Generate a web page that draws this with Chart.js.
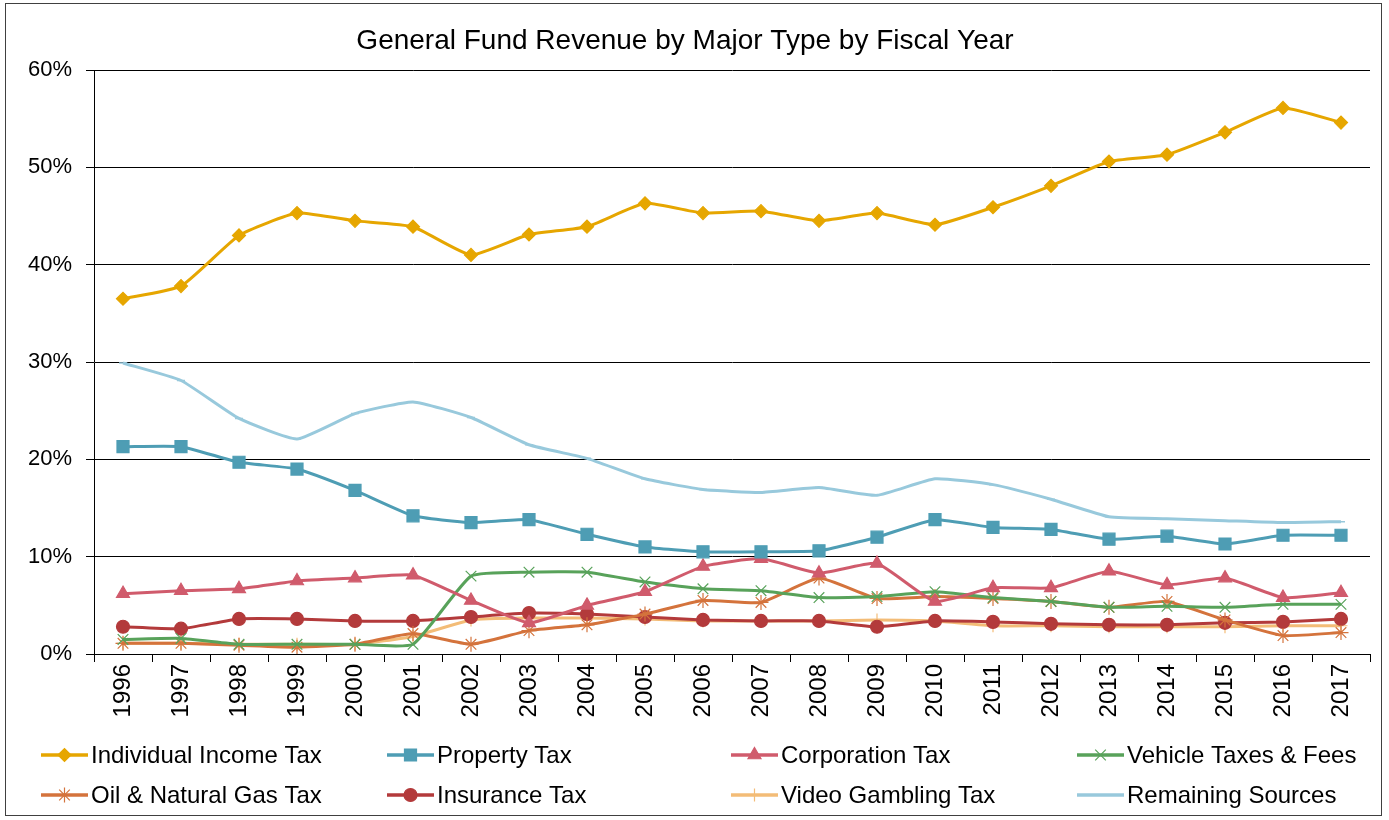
<!DOCTYPE html>
<html>
<head>
<meta charset="utf-8">
<script src="https://cdn.jsdelivr.net/npm/chart.js@4.4.1/dist/chart.umd.min.js"></script>
<style>
html,body{margin:0;padding:0;background:#fff;}
#wrap{position:relative;width:1389px;height:820px;}
canvas{display:block;}
</style>
</head>
<body>
<div id="wrap"><canvas id="c" width="1389" height="820"></canvas></div>
<script>
const years = ['1996','1997','1998','1999','2000','2001','2002','2003','2004','2005','2006','2007','2008','2009','2010','2011','2012','2013','2014','2015','2016','2017'];
const yTicks = [0,10,20,30,40,50,60];
const seriesNames = ['Individual Income Tax','Property Tax','Corporation Tax','Vehicle Taxes & Fees','Oil & Natural Gas Tax','Insurance Tax','Video Gambling Tax','Remaining Sources'];
const individualIncome = [36.5,37.8,43.0,45.3,44.5,43.9,41.0,43.1,43.9,46.3,45.3,45.5,44.5,45.3,44.1,45.9,48.1,50.6,51.3,53.6,56.1,54.6];
const propertyTax = [21.3,21.3,19.7,19.0,16.8,14.2,13.5,13.8,12.3,11.0,10.5,10.5,10.6,12.0,13.8,13.0,12.8,11.8,12.1,11.3,12.2,12.2];
const corporationTax = [6.2,6.5,6.7,7.5,7.8,8.1,5.5,3.2,5.0,6.4,9.0,9.8,8.3,9.3,5.4,6.8,6.8,8.5,7.1,7.8,5.8,6.3];
const vehicleTaxes = [1.5,1.6,1.0,1.0,1.0,1.0,8.0,8.4,8.4,7.4,6.7,6.5,5.8,5.9,6.4,5.8,5.4,4.8,4.9,4.8,5.1,5.1];
const oilGasTax = [1.1,1.1,0.9,0.7,1.0,2.1,1.0,2.4,3.0,4.1,5.5,5.3,7.8,5.7,5.9,5.7,5.4,4.8,5.4,3.5,1.9,2.2];
const insuranceTax = [2.8,2.6,3.6,3.6,3.4,3.4,3.8,4.2,4.1,3.8,3.5,3.4,3.4,2.8,3.4,3.3,3.1,3.0,3.0,3.2,3.3,3.6];
const videoGambling = [1.1,1.1,1.0,1.0,1.0,1.8,3.5,3.7,3.7,3.6,3.4,3.4,3.4,3.5,3.4,2.9,2.9,2.8,2.8,2.8,2.9,2.9];
const remainingSources = [29.9,28.1,24.2,22.1,24.7,25.9,24.3,21.5,20.1,18.0,16.9,16.6,17.1,16.3,18.0,17.4,15.9,14.1,13.9,13.7,13.5,13.6];

const FONT = '"Liberation Sans", Arial, sans-serif';

function ds(label, data, color, style, radius, opts) {
  return Object.assign({
    label, data,
    borderColor: color, backgroundColor: color,
    pointBackgroundColor: color, pointBorderColor: color,
    pointStyle: style, pointRadius: radius, pointHoverRadius: radius,
    pointBorderWidth: 1.2,
    borderWidth: 3, tension: 0.15, fill: false
  }, opts || {});
}

const datasets = [
  ds(seriesNames[0], individualIncome, '#E6A600', 'rectRot', 6.5),
  ds(seriesNames[1], propertyTax, '#4E9DB4', 'rect', 8.5),
  ds(seriesNames[2], corporationTax, '#D05B6C', 'triangle', 7.5),
  ds(seriesNames[3], vehicleTaxes, '#58A25A', 'crossRot', 7.5),
  ds(seriesNames[4], oilGasTax, '#D4733C', 'star', 7.5),
  ds(seriesNames[5], insuranceTax, '#B33A3B', 'circle', 6.5),
  ds(seriesNames[6], videoGambling, '#F3BC77', 'cross', 6.5),
  ds(seriesNames[7], remainingSources, '#98C9DC', 'line', 4, {pointBorderWidth: 1.5})
];

const legendPlugin = {
  id: 'customLegend',
  afterDraw(chart) {
    const ctx = chart.ctx;
    const colX = [41, 387, 731, 1077];
    const rowY = [755, 795];
    ctx.save();
    chart.data.datasets.forEach((d, i) => {
      const x = colX[i % 4], y = rowY[Math.floor(i / 4)];
      ctx.strokeStyle = d.borderColor;
      ctx.lineWidth = 3.5;
      ctx.beginPath(); ctx.moveTo(x, y); ctx.lineTo(x + 47, y); ctx.stroke();
      if (d.pointStyle !== 'line') {
        ctx.fillStyle = d.borderColor;
        ctx.lineWidth = 1.2;
        Chart.helpers.drawPoint(ctx, {pointStyle: d.pointStyle, radius: d.pointRadius, borderWidth: 1.2, rotation: 0}, x + 23.5, y);
      }
      ctx.fillStyle = '#000';
      ctx.font = '24px ' + FONT;
      ctx.textBaseline = 'middle';
      ctx.textAlign = 'left';
      ctx.fillText(d.label, x + 50, y + 1);
    });
    ctx.restore();
  },
  beforeDraw(chart) {
    const ctx = chart.ctx;
    ctx.save();
    ctx.fillStyle = '#fff';
    ctx.fillRect(0, 0, chart.width, chart.height);
    ctx.strokeStyle = '#404040';
    ctx.lineWidth = 1;
    ctx.strokeRect(5.5, 3.5, 1376, 812);
    ctx.restore();
  }
};

new Chart(document.getElementById('c'), {
  type: 'line',
  data: { labels: years, datasets },
  plugins: [legendPlugin],
  options: {
    responsive: false,
    animation: false,
    layout: { padding: { left: 0, right: 19, top: 0, bottom: 94 } },
    plugins: {
      legend: { display: false },
      tooltip: { enabled: false },
      title: {
        display: true,
        text: 'General Fund Revenue by Major Type by Fiscal Year',
        color: '#000',
        font: { family: FONT, size: 28, weight: 'normal', lineHeight: 1.2 },
        padding: { top: 24, bottom: 12.4 }
      }
    },
    scales: {
      x: {
        type: 'category',
        offset: true,
        grid: { display: true, drawOnChartArea: false, drawTicks: true, tickLength: 8, color: '#000', offset: true },
        border: { display: true, color: '#000', width: 1 },
        ticks: { color: '#000', font: { family: FONT, size: 24 }, maxRotation: 90, minRotation: 90, padding: 2, autoSkip: false },
        afterFit(scale) { scale.height = 72; }
      },
      y: {
        min: 0, max: 60,
        afterBuildTicks(scale) { scale.ticks = yTicks.map(v => ({ value: v })); },
        grid: { color: '#000', lineWidth: 1, tickLength: 8, drawTicks: true },
        border: { display: true, color: '#000', width: 1 },
        ticks: { color: '#000', font: { family: FONT, size: 22 }, padding: 14, callback: v => v + '%' },
        afterFit(scale) { scale.width = 94; }
      }
    }
  }
});
</script>
</body>
</html>
